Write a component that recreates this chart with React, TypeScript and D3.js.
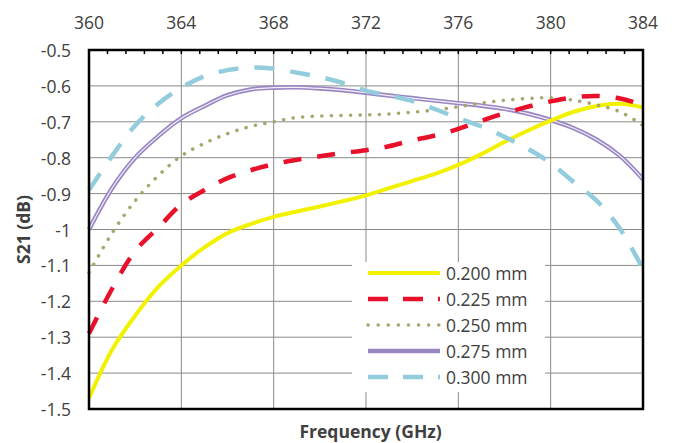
import React, { useEffect, useRef } from 'react'
import * as d3 from 'd3'

// Frequency samples (GHz)
const freqs = [360, 361, 362, 363, 364, 365, 366, 367, 368, 369, 370, 371, 372, 373, 374, 375, 376, 377, 378, 379, 380, 381, 382, 383, 384]

// S21 (dB) per slot width
const s200 = [-1.47, -1.335, -1.24, -1.16, -1.1, -1.05, -1.01, -0.985, -0.965, -0.95, -0.936, -0.921, -0.905, -0.885, -0.865, -0.845, -0.82, -0.79, -0.756, -0.725, -0.697, -0.672, -0.656, -0.65, -0.66]
const s225 = [-1.29, -1.165, -1.06, -0.995, -0.93, -0.89, -0.857, -0.835, -0.818, -0.806, -0.796, -0.787, -0.779, -0.768, -0.752, -0.738, -0.72, -0.697, -0.676, -0.658, -0.643, -0.632, -0.628, -0.635, -0.653]
const s250 = [-1.12, -1.01, -0.92, -0.85, -0.795, -0.76, -0.733, -0.713, -0.7, -0.688, -0.684, -0.682, -0.681, -0.678, -0.673, -0.667, -0.658, -0.648, -0.64, -0.635, -0.633, -0.64, -0.653, -0.672, -0.71]
const s275 = [-1.0, -0.885, -0.8, -0.74, -0.69, -0.656, -0.626, -0.61, -0.605, -0.604, -0.607, -0.612, -0.619, -0.627, -0.634, -0.641, -0.648, -0.655, -0.664, -0.677, -0.695, -0.718, -0.75, -0.795, -0.86]
const s300 = [-0.89, -0.795, -0.71, -0.65, -0.605, -0.573, -0.556, -0.549, -0.552, -0.563, -0.575, -0.592, -0.613, -0.627, -0.642, -0.665, -0.69, -0.713, -0.742, -0.775, -0.815, -0.868, -0.92, -0.998, -1.11]

const seriesNames = ['0.200 mm', '0.225 mm', '0.250 mm', '0.275 mm', '0.300 mm']

// Axis ticks
const xTicks = [360, 364, 368, 372, 376, 380, 384]
const yTicks = [-0.5, -0.6, -0.7, -0.8, -0.9, -1, -1.1, -1.2, -1.3, -1.4, -1.5]
const yTickLabels = ['-0.5', '-0.6', '-0.7', '-0.8', '-0.9', '-1', '-1.1', '-1.2', '-1.3', '-1.4', '-1.5']

const W = 675
const H = 443
const FONT = '"Open Sans", Lato, sans-serif'

type Style = { color: string; width: number; dash: string | null; legendDash: string | null; cap: string; double?: boolean }

const styles: Style[] = [
  { color: '#f2f200', width: 4, dash: null, legendDash: null, cap: 'butt' },
  { color: '#e8102a', width: 4.5, dash: '18,16', legendDash: '20,15', cap: 'butt' },
  { color: '#a7a66c', width: 3.5, dash: '0.1,9.5', legendDash: '0.1,10', cap: 'round' },
  { color: '#9a87c2', width: 4.5, dash: null, legendDash: null, cap: 'butt', double: true },
  { color: '#93cddd', width: 4.5, dash: '20,16', legendDash: '20,15', cap: 'butt' },
]

const App = () => {
  const ref = useRef<SVGSVGElement | null>(null)

  useEffect(() => {
    const margins = { top: 50, right: 32, bottom: 34, left: 89 }
    const bw = W - margins.left - margins.right
    const bh = H - margins.top - margins.bottom

    const svg = d3.select(ref.current)
    svg.selectAll('*').remove()

    svg.append('rect').attr('width', W).attr('height', H).attr('fill', 'white')

    const bounds = svg.append('g')
      .attr('transform', `translate(${margins.left},${margins.top})`)

    const xScale = d3.scaleLinear().domain([360, 384]).range([0, bw])
    const yScale = d3.scaleLinear().domain([-1.5, -0.5]).range([bh, 0])

    // grid
    bounds.selectAll('.hgrid')
      .data(yTicks)
      .join('line')
      .attr('x1', 0).attr('x2', bw)
      .attr('y1', d => yScale(d)).attr('y2', d => yScale(d))
      .attr('stroke', '#8a8a8a').attr('stroke-width', 1)

    bounds.selectAll('.vgrid')
      .data(xTicks)
      .join('line')
      .attr('x1', d => xScale(d)).attr('x2', d => xScale(d))
      .attr('y1', 0).attr('y2', bh)
      .attr('stroke', '#8a8a8a').attr('stroke-width', 1)

    // minor ticks along top edge
    const minor = d3.range(360, 384.01, 0.8)
    bounds.selectAll('.minor')
      .data(minor)
      .join('line')
      .attr('x1', d => xScale(d)).attr('x2', d => xScale(d))
      .attr('y1', 0).attr('y2', 4)
      .attr('stroke', '#000').attr('stroke-width', 1.5)

    // curves
    const allSeries = [s200, s225, s250, s275, s300]
    const line = d3.line<number>()
      .x((_, i) => xScale(freqs[i]))
      .y(d => yScale(d))
      .curve(d3.curveCatmullRom.alpha(0.5))

    const order = [3, 0, 2, 1, 4]
    order.forEach(i => {
      const st = styles[i]
      const p = bounds.append('path')
        .attr('d', line(allSeries[i]))
        .attr('fill', 'none')
        .attr('stroke', st.color)
        .attr('stroke-width', st.width)
        .attr('stroke-linecap', st.cap)
      if (st.dash) p.attr('stroke-dasharray', st.dash)
      if (st.double) {
        bounds.append('path')
          .attr('d', line(allSeries[i]))
          .attr('fill', 'none')
          .attr('stroke', '#f4f0fa')
          .attr('stroke-width', 1.2)
      }
    })

    // frame
    bounds.append('rect')
      .attr('width', bw).attr('height', bh)
      .attr('fill', 'none')
      .attr('stroke', '#000').attr('stroke-width', 2.5)

    // top tick labels
    bounds.selectAll('.xlab')
      .data(xTicks)
      .join('text')
      .attr('x', d => xScale(d))
      .attr('y', -28)
      .attr('text-anchor', 'middle')
      .attr('dominant-baseline', 'central')
      .attr('font-family', FONT)
      .attr('font-size', 17.5)
      .attr('fill', '#404040')
      .text(d => String(d))

    // left tick labels
    bounds.selectAll('.ylab')
      .data(yTicks)
      .join('text')
      .attr('x', -18)
      .attr('y', d => yScale(d))
      .attr('text-anchor', 'end')
      .attr('dominant-baseline', 'central')
      .attr('font-family', FONT)
      .attr('font-size', 17.5)
      .attr('fill', '#404040')
      .text((_, i) => yTickLabels[i])

    // axis titles
    svg.append('text')
      .attr('x', margins.left + xScale(372.2))
      .attr('y', 431)
      .attr('text-anchor', 'middle')
      .attr('dominant-baseline', 'central')
      .attr('font-family', FONT)
      .attr('font-weight', 'bold')
      .attr('font-size', 17.5)
      .attr('fill', '#404040')
      .text('Frequency (GHz)')

    svg.append('text')
      .attr('transform', `translate(23,${margins.top + yScale(-1.0)}) rotate(-90)`)
      .attr('text-anchor', 'middle')
      .attr('dominant-baseline', 'central')
      .attr('font-family', FONT)
      .attr('font-weight', 'bold')
      .attr('font-size', 17.5)
      .attr('fill', '#404040')
      .text('S21 (dB)')

    // legend
    const legend = svg.append('g').attr('transform', 'translate(352,262)')
    legend.append('rect')
      .attr('width', 193).attr('height', 130)
      .attr('fill', 'white')

    seriesNames.forEach((name, i) => {
      const st = styles[i]
      const y = 11 + i * 26
      const l = legend.append('line')
        .attr('x1', 16).attr('x2', 88)
        .attr('y1', y).attr('y2', y)
        .attr('stroke', st.color)
        .attr('stroke-width', st.width)
        .attr('stroke-linecap', st.cap)
      if (st.legendDash) l.attr('stroke-dasharray', st.legendDash)
      legend.append('text')
        .attr('x', 94)
        .attr('y', y)
        .attr('dominant-baseline', 'central')
        .attr('font-family', FONT)
        .attr('font-size', 17.5)
        .attr('fill', '#404040')
        .text(name)
    })
  }, [])

  return (
    <svg
      ref={ref}
      width={W}
      height={H}
      style={{ position: 'absolute', left: 0, top: 0 }}
    />
  )
}

export default App
